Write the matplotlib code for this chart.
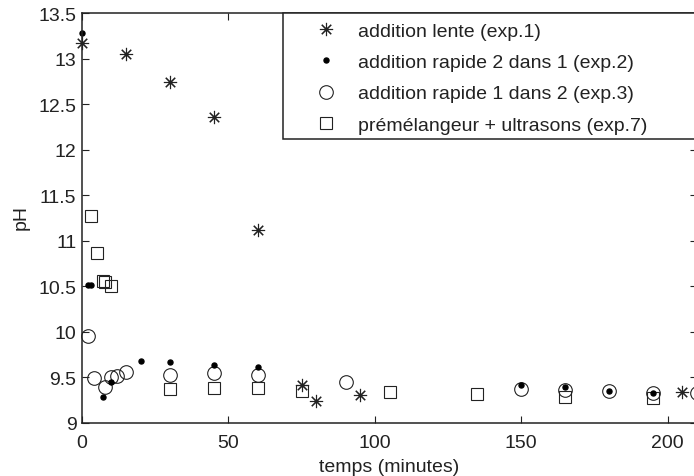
import matplotlib
matplotlib.use("Agg")
import matplotlib.pyplot as plt
from matplotlib.patches import Rectangle

plt.rcParams['font.family'] = ['Liberation Sans', 'DejaVu Sans']

# exp.1 : addition lente
t_exp1 = [0, 15, 30, 45, 60, 75, 80, 95, 205]
ph_exp1 = [13.17, 13.05, 12.74, 12.36, 11.12, 9.42, 9.24, 9.31, 9.34]

# exp.2 : addition rapide 2 dans 1
t_exp2 = [0, 2, 3, 7, 10, 20, 30, 45, 60, 150, 165, 180, 195]
ph_exp2 = [13.28, 10.52, 10.52, 9.29, 9.45, 9.68, 9.67, 9.64, 9.62, 9.42, 9.39, 9.35, 9.33]

# exp.3 : addition rapide 1 dans 2
t_exp3 = [2, 4, 8, 10, 12, 15, 30, 45, 60, 90, 150, 165, 180, 195, 210]
ph_exp3 = [9.96, 9.49, 9.40, 9.50, 9.52, 9.56, 9.53, 9.55, 9.53, 9.45, 9.37, 9.36, 9.35, 9.33, 9.33]

# exp.7 : prémélangeur + ultrasons
t_exp7 = [3, 5, 7, 8, 10, 30, 45, 60, 75, 105, 135, 165, 195]
ph_exp7 = [11.27, 10.87, 10.56, 10.55, 10.50, 9.37, 9.38, 9.38, 9.35, 9.34, 9.32, 9.28, 9.27]

labels = ['addition lente (exp.1)', 'addition rapide 2 dans 1 (exp.2)',
          'addition rapide 1 dans 2 (exp.3)', 'prémélangeur + ultrasons (exp.7)']

W, H = 694, 477
FS = 14
INK = '#222222'

fig = plt.figure(figsize=(W / 100, H / 100), dpi=100)
ax = fig.add_axes([82 / W, 53 / H, 615 / W, 410 / H])

h7, = ax.plot(t_exp7, ph_exp7, ls='none', marker='s', ms=8, mfc='none', mec=INK, mew=0.8, clip_on=False)
h3, = ax.plot(t_exp3, ph_exp3, ls='none', marker='o', ms=9.8, mfc='none', mec=INK, mew=0.8, clip_on=False)
h1, = ax.plot(t_exp1, ph_exp1, ls='none', marker=(8, 2, 0), ms=9.5, mec=INK, mew=0.8, clip_on=False)
h2, = ax.plot(t_exp2, ph_exp2, ls='none', marker='o', ms=3.6, mfc='black', mec='black', clip_on=False)

ax.set_xlim(0, 210)
ax.set_ylim(9, 13.5)
ax.set_xticks([0, 50, 100, 150, 200])
ax.set_yticks([9, 9.5, 10, 10.5, 11, 11.5, 12, 12.5, 13, 13.5])
ax.set_yticklabels(['9', '9.5', '10', '10.5', '11', '11.5', '12', '12.5', '13', '13.5'])
ax.tick_params(direction='in', top=True, right=True, length=5, width=0.8, pad=4,
               labelsize=FS, colors=INK)
ax.tick_params(axis='x', pad=8)
for s in ax.spines.values():
    s.set_linewidth(1.1)
    s.set_color(INK)

ax.set_xlabel('temps (minutes)', fontsize=FS, color=INK, labelpad=5)
ax.set_ylabel('pH', fontsize=FS, color=INK)
ax.yaxis.set_label_coords(-52 / 615, (424 - 218) / 410)

# cadre de la légende
fig.patches.append(Rectangle((283 / W, (H - 140) / H), (720 - 283) / W, 126 / H,
                             transform=fig.transFigure, fill=True, fc='white',
                             ec=INK, lw=1.1, zorder=5))
leg = fig.legend([h1, h2, h3, h7], labels, loc='upper left',
                 bbox_to_anchor=(310.5 / W, 1 - 23 / H), frameon=False,
                 borderpad=0, borderaxespad=0, fontsize=FS,
                 handlelength=1.6, handletextpad=0.85, labelspacing=0.71)
leg.set_zorder(6)
for t in leg.get_texts():
    t.set_color(INK)

fig.savefig('out.png', dpi=100)
